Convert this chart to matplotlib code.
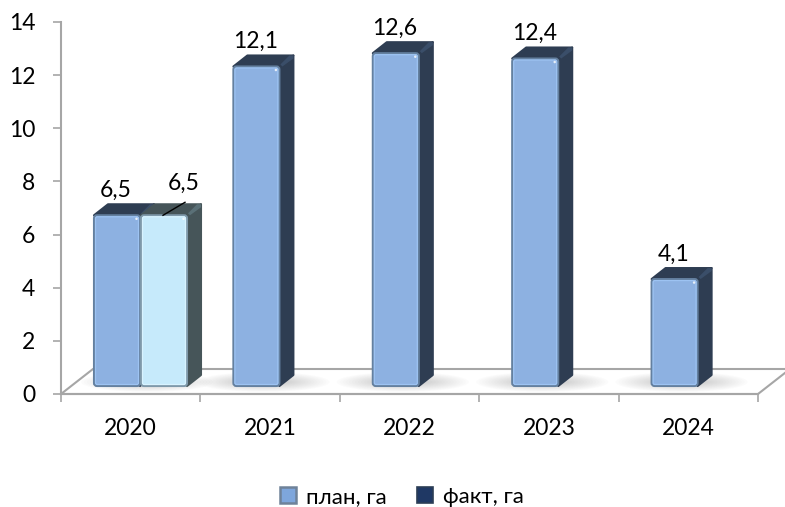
import matplotlib
matplotlib.use('Agg')
import matplotlib.pyplot as plt
from matplotlib.patches import Ellipse, FancyBboxPatch, Patch, Polygon

plt.rcParams['font.family'] = ['Lato', 'Noto Sans', 'DejaVu Sans']

# Data
years = ['2020', '2021', '2022', '2023', '2024']
plan = [6.5, 12.1, 12.6, 12.4, 4.1]
fact = [6.5, None, None, None, None]
y_ticks = [0, 2, 4, 6, 8, 10, 12, 14]
value_labels_plan = ['6,5', '12,1', '12,6', '12,4', '4,1']
value_labels_fact = ['6,5', '', '', '', '']

W, H = 785, 507
LEFT, RIGHT, TOP, BOTTOM = 61, 758, 22, 394
px_x = (RIGHT - LEFT) / 5      # pixels per category
px_y = (BOTTOM - TOP) / 14     # pixels per unit

# 3D look, in data units
floor_dx, floor_dy = 32 / px_x, 25 / px_y
base = 8 / px_y
top_shift = 2 / px_y
bar_dx, bar_dy = 14 / px_x, 11 / px_y
bar_w = 46 / px_x
bar_off = 33 / px_x
gap = 1 / px_x

AXIS_GREY = '#A6A6A6'

fig = plt.figure(figsize=(W / 100, H / 100), dpi=100)
ax = fig.add_axes([LEFT / W, 1 - BOTTOM / H, (RIGHT - LEFT) / W, (BOTTOM - TOP) / H])
ax.set_xlim(0, 5)
ax.set_ylim(0, 14)

# Floor
floor = Polygon([(0, 0), (5, 0), (5 + floor_dx, floor_dy), (floor_dx, floor_dy)], closed=True,
                facecolor='white', edgecolor=AXIS_GREY, lw=1.5, clip_on=False, zorder=1)
ax.add_patch(floor)


def draw_shadow(x):
    cx = x + bar_w / 2 + bar_dx / 2
    cy = base + 4 / px_y
    for i in range(14):
        e = Ellipse((cx, cy), (bar_w + bar_dx) * (2.2 - 0.1 * i), (18 - i) * 1.1 / px_y,
                    facecolor='#7F7F7F', edgecolor='none', alpha=0.022, zorder=2, clip_on=False)
        ax.add_patch(e)
        e.set_clip_path(floor)


def draw_bar(x, value, front, inner, edge, side, rim):
    height = value - top_shift
    top = base + height
    # side and top faces
    ax.add_patch(Polygon([(x + bar_w, base), (x + bar_w + bar_dx, base + bar_dy),
                          (x + bar_w + bar_dx, top + bar_dy), (x + bar_w, top)], closed=True,
                         facecolor=side, edgecolor=side, lw=1.5, joinstyle='round',
                         clip_on=False, zorder=3))
    ax.add_patch(Polygon([(x, top), (x + bar_dx, top + bar_dy), (x + bar_w + bar_dx, top + bar_dy),
                          (x + bar_w, top)], closed=True,
                         facecolor=side, edgecolor=side, lw=1.5, joinstyle='round',
                         clip_on=False, zorder=3))
    # lighter rim on the top right corner
    ax.add_patch(Polygon([(x + bar_w + 1 / px_x, top + 2 / px_y), (x + bar_w + bar_dx - 4 / px_x, top + bar_dy),
                          (x + bar_w + bar_dx, top + bar_dy), (x + bar_w + bar_dx, top + bar_dy - 3 / px_y),
                          (x + bar_w + 3 / px_x, top)], closed=True,
                         facecolor=rim, edgecolor='none', clip_on=False, zorder=3))
    # front face, rounded, with a bevel
    r = 3 / px_x
    aspect = px_x / px_y
    ax.add_patch(FancyBboxPatch((x, base), bar_w, height, boxstyle=f'round,pad=0,rounding_size={r}',
                                mutation_aspect=aspect, facecolor=front, edgecolor=edge, lw=1.5,
                                clip_on=False, zorder=4))
    ins_x, ins_y = 1.5 / px_x, 1.5 / px_y
    ax.add_patch(FancyBboxPatch((x + ins_x, base + ins_y), bar_w - 2 * ins_x, height - 2 * ins_y,
                                boxstyle=f'round,pad=0,rounding_size={r * 0.6}',
                                mutation_aspect=aspect, facecolor=front, edgecolor=inner, lw=0.9,
                                clip_on=False, zorder=4))
    ax.add_patch(Ellipse((x + bar_w - 3.5 / px_x, top - 3.5 / px_y), 2.5 / px_x, 2.5 / px_y,
                         facecolor='white', edgecolor='none', alpha=0.8, clip_on=False, zorder=5))


for i in range(len(years)):
    draw_shadow(i + bar_off + (bar_w / 2 if fact[i] is not None else 0))

for i in range(len(years)):
    x = i + bar_off
    draw_bar(x, plan[i], '#8DB1E1', '#9DC3F2', '#64809F', '#2E3D52', '#3A4E69')
    ax.annotate(value_labels_plan[i], (x + bar_w / 2 - 1 / px_x, base + plan[i] - top_shift), xytext=(0, 25),
                textcoords='offset pixels', ha='center', va='center', fontsize=16.5,
                color='black', annotation_clip=False, zorder=6)
    if fact[i] is not None:
        x2 = x + bar_w + gap
        draw_bar(x2, fact[i], '#C6EAFB', '#D8F3FF', '#7F99AA', '#465559', '#5A7077')
        ax.annotate(value_labels_fact[i], (x2 + 22 / px_x, base + fact[i] - top_shift), xytext=(21, 32),
                    textcoords='offset pixels', ha='center', va='center', fontsize=16.5,
                    color='black', annotation_clip=False, zorder=6)
        ax.plot([x2 + 22 / px_x, x2 + 44 / px_x],
                [base + fact[i] - top_shift, base + fact[i] - top_shift + 13 / px_y],
                color='black', lw=1, clip_on=False, zorder=6)

# Axes
for s in ['top', 'right']:
    ax.spines[s].set_visible(False)
for s in ['left', 'bottom']:
    ax.spines[s].set_color(AXIS_GREY)
    ax.spines[s].set_linewidth(1.5)
    ax.spines[s].set_zorder(1.5)
ax.patch.set_alpha(0)
ax.set_yticks(y_ticks)
ax.set_xticks(range(6))
ax.set_xticklabels([])
ax.set_xticks([i + 0.5 for i in range(5)], minor=True)
ax.set_xticklabels(years, minor=True)
ax.tick_params(axis='x', which='major', length=5.5, width=1.2, color=AXIS_GREY)
ax.tick_params(axis='x', which='minor', length=0, pad=17, labelsize=16.5)
ax.tick_params(axis='y', length=5.5, width=1.2, color=AXIS_GREY, pad=13, labelsize=16.5)

# Legend
handles = [Patch(facecolor='#7EA6DC', edgecolor='#6F8299', lw=1.8, label='план, га'),
           Patch(facecolor='#1F3864', edgecolor='#2C3E55', lw=1.2, label='факт, га')]
fig.legend(handles=handles, loc='center', bbox_to_anchor=(402 / W, 1 - 497 / H), ncol=2, frameon=False,
           fontsize=16, handlelength=0.72, handleheight=0.72, handletextpad=0.45, columnspacing=1.4)

fig.savefig('out.png', dpi=100, facecolor='white')
